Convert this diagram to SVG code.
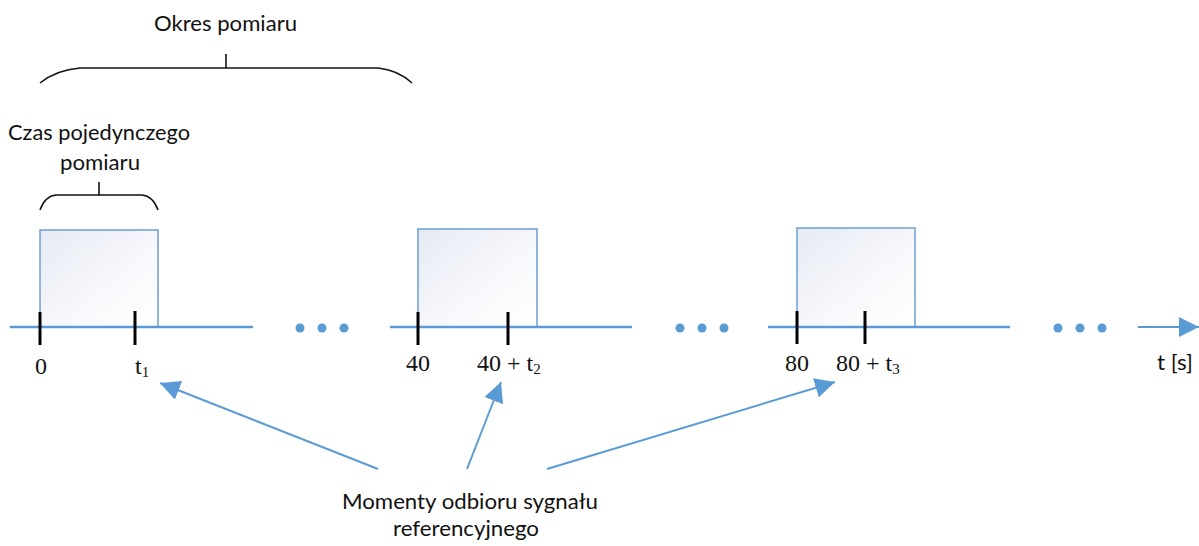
<svg xmlns="http://www.w3.org/2000/svg" width="1199" height="546" viewBox="0 0 1199 546">
<defs>
<linearGradient id="boxfill" x1="0" y1="0" x2="1" y2="1">
<stop offset="0" stop-color="#e6eaf4"/>
<stop offset="0.6" stop-color="#f8f9fc"/>
<stop offset="1" stop-color="#ffffff"/>
</linearGradient>
<marker id="ahbig" viewBox="0 0 10 10" refX="10" refY="5" markerWidth="20" markerHeight="20" markerUnits="userSpaceOnUse" orient="auto">
<path d="M0,0 L10,5 L0,10 z" fill="#5b9bd5"/>
</marker>
</defs>
<style>
.lbl{font-family:"Lato","Open Sans",sans-serif;font-size:22px;fill:#111;}
.num{font-family:"Liberation Serif","DejaVu Serif",serif;font-size:24px;fill:#111;}
.sub{font-size:15px;}
.axis{stroke:#5b9bd5;stroke-width:2.5;fill:none;}
.box{fill:url(#boxfill);stroke:#6a9ed4;stroke-width:1.5;}
.tick{stroke:#000;stroke-width:3;}
.brace{stroke:#111;stroke-width:1.6;fill:none;}
.dot{fill:#5b9bd5;}
.conn{stroke:#5b9bd5;stroke-width:2;fill:none;}
</style>
<rect width="1199" height="546" fill="#fff"/>

<g id="okres">
<text class="lbl" x="154" y="31" textLength="143" lengthAdjust="spacingAndGlyphs">Okres pomiaru</text>
<path class="brace" d="M40,83 Q56,70 80,68 L378,68 Q398,70 412,83"/>
<line class="brace" x1="226" y1="54" x2="226" y2="68"/>
</g>

<g id="czas">
<text class="lbl" x="8" y="140" textLength="182" lengthAdjust="spacingAndGlyphs">Czas pojedynczego</text>
<text class="lbl" x="60" y="170" textLength="80" lengthAdjust="spacingAndGlyphs">pomiaru</text>
<path class="brace" d="M40,210 Q45,196 56,195 L142,195 Q153,196 158,210"/>
<line class="brace" x1="99" y1="182" x2="99" y2="195"/>
</g>

<g id="pulse1">
<rect class="box" x="40" y="230" width="118" height="97"/>
<line class="axis" x1="10" y1="327" x2="253" y2="327"/>
<line class="tick" x1="40" y1="312" x2="40" y2="345"/>
<line class="tick" x1="135" y1="311" x2="135" y2="345"/>
<text class="num" x="41" y="374" text-anchor="middle">0</text>
<text class="num" x="135" y="374">t<tspan class="sub" dy="3">1</tspan></text>
</g>

<g id="dots1">
<circle class="dot" cx="300" cy="328" r="4.5"/>
<circle class="dot" cx="322" cy="328" r="4.5"/>
<circle class="dot" cx="344" cy="328" r="4.5"/>
</g>

<g id="pulse2">
<rect class="box" x="418" y="229" width="119" height="98"/>
<line class="axis" x1="390" y1="327" x2="632" y2="327"/>
<line class="tick" x1="418" y1="312" x2="418" y2="345"/>
<line class="tick" x1="508" y1="312" x2="508" y2="345"/>
<text class="num" x="418" y="371" text-anchor="middle">40</text>
<text class="num" x="477" y="371">40 + t<tspan class="sub" dy="3">2</tspan></text>
</g>

<g id="dots2">
<circle class="dot" cx="680" cy="328" r="4.5"/>
<circle class="dot" cx="702" cy="328" r="4.5"/>
<circle class="dot" cx="724" cy="328" r="4.5"/>
</g>

<g id="pulse3">
<rect class="box" x="797" y="228" width="118" height="99"/>
<line class="axis" x1="768" y1="327" x2="1010" y2="327"/>
<line class="tick" x1="797" y1="311" x2="797" y2="344"/>
<line class="tick" x1="865" y1="311" x2="865" y2="344"/>
<text class="num" x="797" y="371" text-anchor="middle">80</text>
<text class="num" x="836" y="371">80 + t<tspan class="sub" dy="3">3</tspan></text>
</g>

<g id="dots3">
<circle class="dot" cx="1058" cy="328" r="4.5"/>
<circle class="dot" cx="1080" cy="328" r="4.5"/>
<circle class="dot" cx="1102" cy="328" r="4.5"/>
</g>

<g id="taxis">
<text class="lbl" x="1157" y="370" textLength="36" lengthAdjust="spacingAndGlyphs">t [s]</text>
</g>

<g id="momenty">
<text class="lbl" x="342" y="509" textLength="256" lengthAdjust="spacingAndGlyphs">Momenty odbioru sygnału</text>
<text class="lbl" x="393" y="536" textLength="146" lengthAdjust="spacingAndGlyphs">referencyjnego</text>
</g>

<g id="connectors">
<line class="conn" x1="1138" y1="327" x2="1199" y2="327" marker-end="url(#ahbig)"/>
<line class="conn" x1="378" y1="469" x2="160" y2="383" marker-end="url(#ahbig)"/>
<line class="conn" x1="467" y1="469" x2="501" y2="382" marker-end="url(#ahbig)"/>
<line class="conn" x1="547" y1="469" x2="835" y2="382" marker-end="url(#ahbig)"/>
</g>
</svg>
